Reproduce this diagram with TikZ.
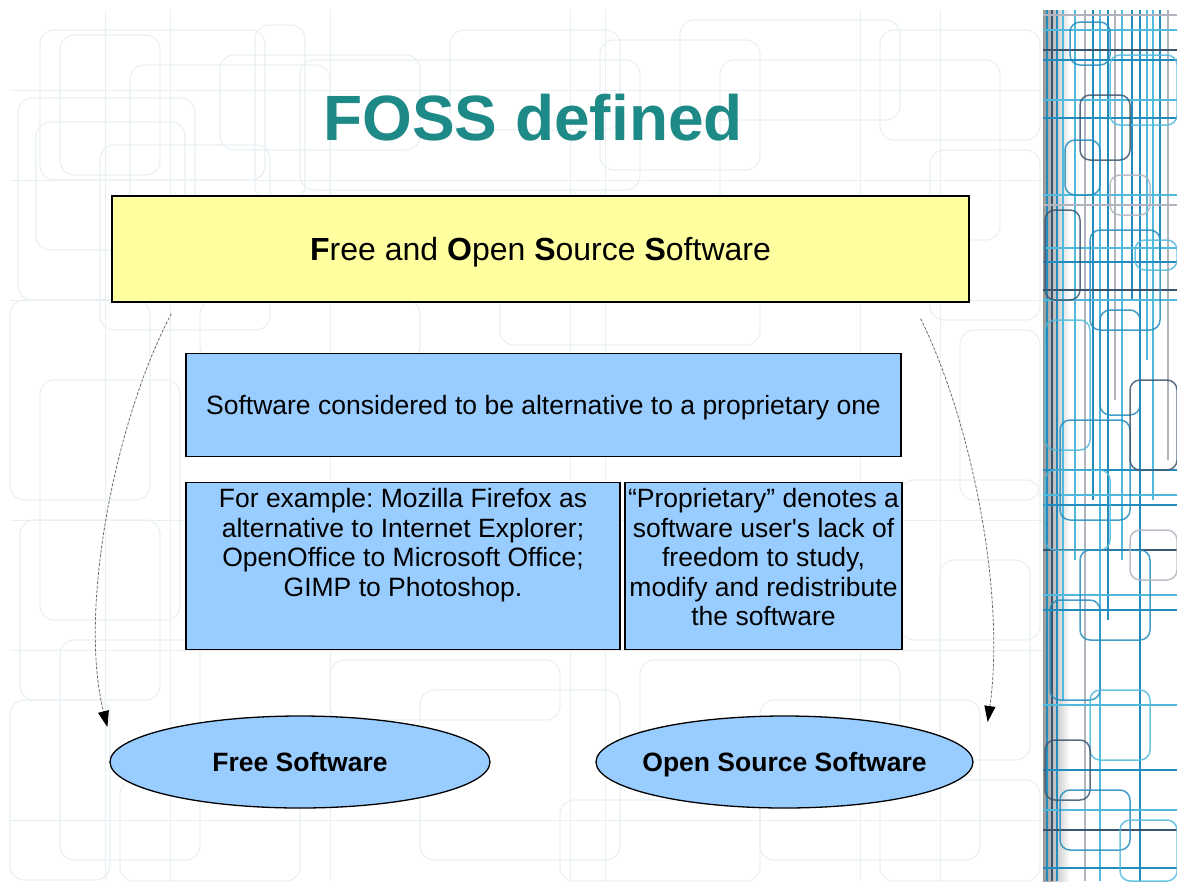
\documentclass[tikz,border=0pt]{standalone}
\usepackage{fontspec}
\setmainfont{Liberation Sans}
\usetikzlibrary{shapes.geometric,arrows.meta}
\frenchspacing
\definecolor{teal1}{RGB}{30,138,135}
\definecolor{yel}{RGB}{255,255,160}
\definecolor{lblue}{RGB}{153,204,255}
\definecolor{bgline}{RGB}{233,240,244}
\definecolor{cy1}{RGB}{80,185,220}
\definecolor{cy2}{RGB}{35,140,190}
\definecolor{dk1}{RGB}{60,85,110}
\definecolor{gr1}{RGB}{175,180,190}
\begin{document}
\begin{tikzpicture}[x=1pt,y=-1pt,
  box/.style={draw=black,line width=1.3pt,rectangle,inner sep=0pt},
  ell/.style={ellipse,draw=black,line width=1.3pt,fill=lblue,inner sep=0pt,
    text height=19pt,text depth=0pt,
    font=\bfseries\fontsize{26.5}{30}\selectfont},
  body/.style={font=\fontsize{26.5}{29.5}\selectfont},
  conn/.style={draw=gray!85!black,line width=0.8pt,dash pattern=on 3pt off 1.5pt,
    -{Triangle[length=16pt,width=11pt,black]}},
  bgrect/.style={draw=bgline,line width=1.1pt,rounded corners=14pt},
  strip/.style={line width=1.5pt,rounded corners=10pt,opacity=0.85}
]
\useasboundingbox (0,0) rectangle (1177,881);
\fill[white] (0,0) rectangle (1177,881);

% faint background pattern
\foreach \a/\b/\c/\d in {40/30/265/180, 60/35/160/175, 130/65/330/240, 18/98/195/300,
  36/122/185/250, 100/145/270/330, 220/55/420/150, 255/25/305/200, 300/60/640/190,
  450/30/620/130, 600/40/760/170, 680/20/900/120, 720/60/1000/240, 880/30/1040/140,
  930/150/1040/320, 10/300/150/500, 40/380/180/620, 20/520/160/700, 60/640/200/860,
  10/700/110/880, 120/780/300/881, 330/660/560/720, 420/690/620/860, 560/800/760/881,
  640/660/900/780, 760/700/980/860, 880/780/1040/881, 900/480/1040/640,
  940/560/1030/760, 960/330/1040/500, 200/300/420/360, 500/290/760/345}
  \draw[bgrect] (\a,\b) rectangle (\c,\d);
\foreach \y in {90,180,300,520,650,820}
  \draw[bgline,line width=1pt] (10,\y) -- (1043,\y);
\foreach \x in {105,170,330,570,605,860,940}
  \draw[bgline,line width=1pt] (\x,10) -- (\x,881);

% right decorative strip
\shade[left color=gray!80,right color=white] (1043,10) rectangle (1070,881);
\begin{scope}
\clip (1043,10) rectangle (1177,881);
\foreach \x/\c/\s/\e in {1047/cy2/10/881, 1052/dk1/10/881, 1057/cy2/10/881, 1063/cy1/10/700,
  1075/cy1/10/560, 1085/gr1/10/881, 1093/cy2/10/500, 1100/cy1/10/881, 1108/cy2/10/620,
  1115/gr1/10/400, 1122/cy1/10/560, 1132/cy2/10/300, 1140/cy2/10/881, 1147/cy1/10/360,
  1153/cy1/10/500, 1160/cy2/10/260, 1168/gr1/10/460}
  \draw[\c,line width=1.6pt] (\x,\s) -- (\x,\e);
\foreach \y/\c in {15/gr1, 30/cy1, 50/dk1, 60/cy2, 100/cy1, 118/cy2, 195/cy1, 205/gr1, 248/cy1,
  262/cy2, 290/dk1, 300/cy1, 470/cy2, 495/cy1, 505/cy2, 550/dk1, 595/cy1, 610/cy2,
  705/cy1, 770/cy2, 810/cy1, 830/dk1, 868/cy2}
  \draw[\c,line width=1.6pt] (1043,\y) -- (1177,\y);
\foreach \a/\b/\c/\d/\k in {1070/22/1110/65/cy2, 1110/55/1177/125/cy1, 1080/95/1130/160/dk1,
  1065/140/1100/195/cy2, 1110/175/1150/215/gr1, 1090/230/1160/330/cy2, 1045/210/1080/300/dk1,
  1135/240/1177/270/cy1, 1100/310/1140/415/cy2, 1045/320/1090/450/cy1, 1060/420/1130/520/cy2,
  1130/380/1177/470/dk1, 1045/470/1110/550/cy1, 1080/550/1150/640/cy2, 1130/530/1177/580/gr1,
  1050/600/1100/700/cy2, 1090/690/1150/760/cy1, 1045/740/1090/800/dk1, 1060/790/1130/850/cy2,
  1120/820/1177/881/cy1}
  \draw[strip,\k] (\a,\b) rectangle (\c,\d);
\end{scope}

% title
\node[font=\bfseries\fontsize{64}{70}\selectfont,text=teal1] (title) at (533,118) {FOSS defined};

% boxes
\node[box,fill=yel,minimum width=857,minimum height=106,text height=23pt,text depth=0pt,
  font=\fontsize{32}{36}\selectfont]
  (foss) at (540.5,249) {\textbf{F}ree and \textbf{O}pen \textbf{S}ource \textbf{S}oftware};
\node[box,fill=lblue,minimum width=715,minimum height=103,text height=19pt,text depth=0pt,body]
  (alt) at (543.5,405) {Software considered to be alternative to a proprietary one};
\node[box,fill=lblue,minimum width=434,minimum height=167,anchor=north,body]
  (ex) at (403,482) {\parbox[t][155pt][t]{430pt}{\centering For example: Mozilla Firefox as\\
  alternative to Internet Explorer;\\ OpenOffice to Microsoft Office;\\ GIMP to Photoshop.}};
\node[box,fill=lblue,minimum width=277,minimum height=167,anchor=north,body]
  (prop) at (763.5,482) {\parbox[t][155pt][t]{277pt}{\centering “Proprietary” denotes a\\
  software user\textquotesingle s lack of\\ freedom to study,\\ modify and redistribute\\ the software}};

% ellipses
\node[ell,minimum width=380,minimum height=92] (free) at (300,762) {\makebox[0pt]{Free Software}};
\node[ell,minimum width=377,minimum height=92] (oss) at (784.5,762) {\makebox[0pt]{Open Source Software}};

% connectors
\coordinate (s1) at ([xshift=60pt,yshift=-11pt]foss.south west);
\coordinate (e1) at ([xshift=-2pt,yshift=35pt]free.west);
\coordinate (s2) at ([xshift=-49pt,yshift=-16pt]foss.south east);
\coordinate (e2) at ([xshift=14pt,yshift=40pt]oss.east);
\draw[conn] (s1) .. controls (115,420) and (78,610) .. (e1);
\draw[conn] (s2) .. controls (975,430) and (1005,600) .. (e2);
\end{tikzpicture}
\end{document}
